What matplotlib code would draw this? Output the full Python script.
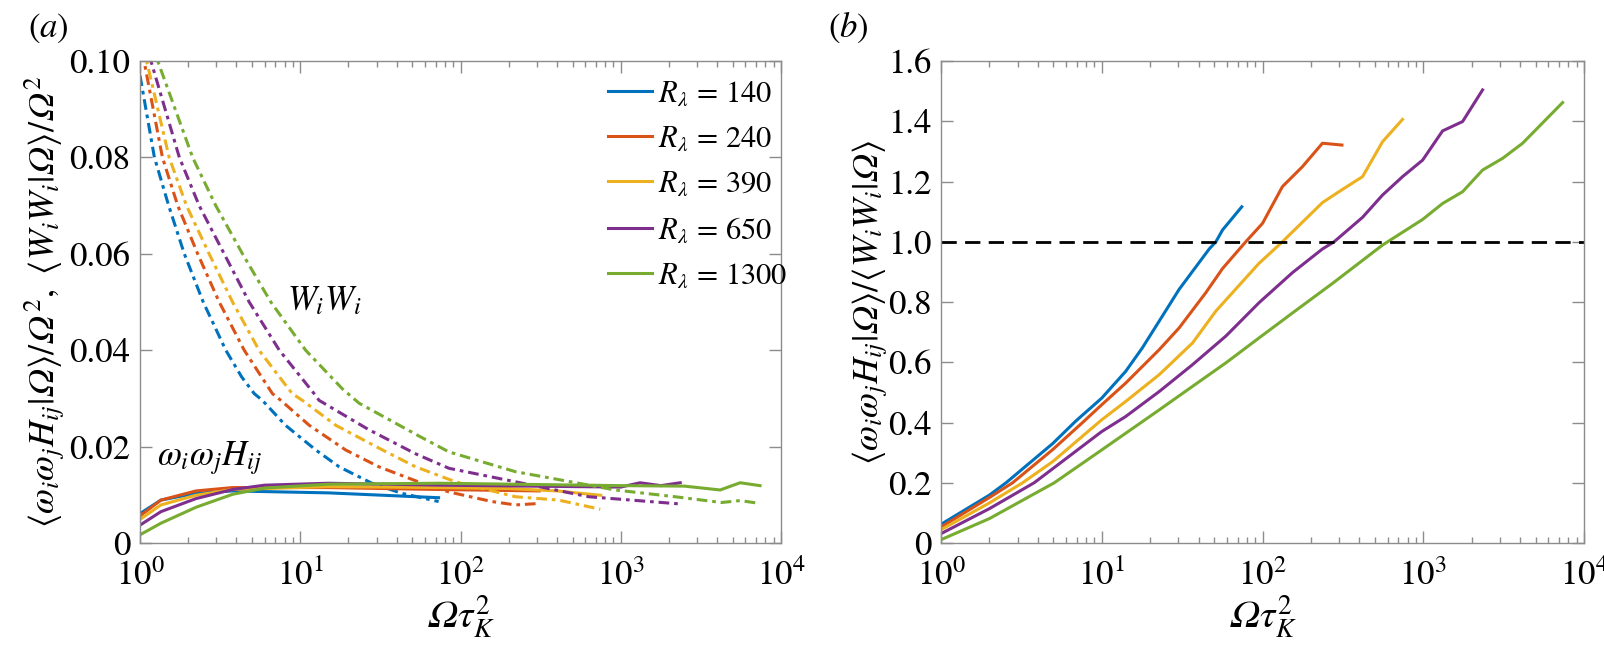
import numpy as np
import matplotlib
matplotlib.use('Agg')
import matplotlib.pyplot as plt

plt.rcParams['mathtext.fontset'] = 'stix'
plt.rcParams['font.family'] = ['STIXGeneral', 'Liberation Serif', 'DejaVu Serif']

# data
re_labels = ['140', '240', '390', '650', '1300']
colors = ['#0072BD', '#D95319', '#EDB120', '#7E2F8E', '#77AC30']

# panel (a): <w_i w_j H_ij | Omega> / Omega^2  (solid)
x_h140 = [1, 1.35, 2.23, 3.78, 15, 73]
y_h140 = [0.0061, 0.0089, 0.0103, 0.0108, 0.0104, 0.0094]
x_h240 = [1, 1.35, 2.23, 3.78, 15, 73, 310]
y_h240 = [0.0056, 0.0089, 0.0108, 0.0115, 0.0115, 0.0111, 0.0108]
x_h390 = [1, 1.35, 2.23, 3.78, 15, 73, 200, 400, 750]
y_h390 = [0.0049, 0.0079, 0.0099, 0.0111, 0.0117, 0.0115, 0.0113, 0.0108, 0.0099]
x_h650 = [1, 1.35, 2.23, 3.78, 6, 15, 73, 1000, 1320, 1780, 2350]
y_h650 = [0.0037, 0.0065, 0.0092, 0.0111, 0.0120, 0.0124, 0.0120, 0.0116, 0.0125, 0.0119, 0.0125]
x_h1300 = [1, 1.35, 2.23, 3.78, 6, 15, 73, 1000, 2500, 4170, 5560, 7400]
y_h1300 = [0.0017, 0.0041, 0.0074, 0.0101, 0.0114, 0.0122, 0.0124, 0.0119, 0.0118, 0.0110, 0.0125, 0.0119]

# panel (a): <W_i W_i | Omega> / Omega^2  (dash-dot)
x_w140 = [1, 1.23, 1.51, 1.89, 2.48, 3.43, 4.3, 5.16, 5.8, 8.1, 12.5, 17.5, 28, 43, 73]
y_w140 = [0.097, 0.08, 0.07, 0.06, 0.05, 0.04, 0.0345, 0.031, 0.0296, 0.0244, 0.0193,
          0.0158, 0.0124, 0.0103, 0.0086]
x_w240 = [1, 1.06, 1.38, 1.72, 2.29, 3.12, 4.47, 6.7, 7.56, 11.4, 19.2, 31, 57.6, 84.5,
          157, 220, 310]
y_w240 = [0.102, 0.10, 0.08, 0.07, 0.06, 0.05, 0.04, 0.031, 0.0296, 0.0244, 0.0193,
          0.0158, 0.0124, 0.0106, 0.0086, 0.0079, 0.0082]
x_w390 = [1, 1.1, 1.52, 1.95, 2.7, 3.78, 5.53, 8.9, 10.3, 16.7, 32.6, 52.5, 93, 220, 410, 745]
y_w390 = [0.103, 0.10, 0.08, 0.07, 0.06, 0.05, 0.04, 0.031, 0.0296, 0.0244, 0.0193,
          0.0158, 0.0127, 0.0096, 0.0089, 0.0070]
x_w650 = [1, 1.17, 1.76, 2.34, 3.35, 4.8, 7.4, 12.2, 13.1, 26.8, 52.5, 84.7, 220, 630, 2350]
y_w650 = [0.106, 0.10, 0.08, 0.07, 0.06, 0.05, 0.04, 0.031, 0.0296, 0.0235, 0.0185,
          0.0155, 0.0127, 0.0096, 0.0081]
x_w1300 = [1, 1.29, 2.13, 2.97, 4.36, 6.55, 10.8, 18.3, 23.3, 55, 84.7, 220, 925, 2180,
           4260, 5560, 7400]
y_w1300 = [0.115, 0.10, 0.08, 0.07, 0.06, 0.05, 0.04, 0.032, 0.0290, 0.0222, 0.0189,
           0.0148, 0.0110, 0.0096, 0.0084, 0.0088, 0.0082]

# panel (b): ratio
x_r140 = [1, 2.0, 2.54, 4.95, 6.9, 10, 14.1, 17.9, 22.8, 30.3, 46.6, 51.3, 56.4, 74.3]
y_r140 = [0.062, 0.159, 0.2, 0.33, 0.405, 0.481, 0.57, 0.648, 0.737, 0.842, 0.976, 1.0,
          1.039, 1.116]
x_r240 = [1, 2, 2.79, 4.95, 7.6, 10, 14.1, 22.8, 30.3, 44.4, 56.4, 78.7, 100, 133, 177, 236, 312]
y_r240 = [0.053, 0.151, 0.2, 0.31, 0.4, 0.459, 0.531, 0.642, 0.714, 0.831, 0.911, 1.0,
          1.061, 1.183, 1.249, 1.327, 1.321]
x_r390 = [1, 2, 3.22, 4.95, 10, 14.1, 22.8, 36.7, 51.3, 95, 133, 236, 315, 419, 558, 743]
y_r390 = [0.044, 0.133, 0.2, 0.27, 0.409, 0.47, 0.559, 0.664, 0.77, 0.928, 1.0, 1.13,
          1.174, 1.216, 1.332, 1.406]
x_r650 = [1, 2, 3.8, 10, 14.1, 22.8, 36.7, 59.2, 95.3, 154, 236, 279, 419, 558, 743,
          991, 1319, 1757, 2339]
y_r650 = [0.031, 0.114, 0.2, 0.37, 0.42, 0.503, 0.592, 0.687, 0.798, 0.898, 0.976,
          1.0, 1.081, 1.155, 1.216, 1.271, 1.368, 1.399, 1.504]
x_r1300 = [1, 2, 5.07, 10, 22.8, 36.7, 59.2, 95.3, 154, 273, 558, 991, 1319, 1757, 2339,
           3119, 4150, 7360]
y_r1300 = [0.011, 0.081, 0.2, 0.309, 0.442, 0.52, 0.598, 0.681, 0.764, 0.862, 0.989,
           1.074, 1.127, 1.166, 1.238, 1.277, 1.327, 1.462]

h_curves = [(x_h140, y_h140), (x_h240, y_h240), (x_h390, y_h390), (x_h650, y_h650), (x_h1300, y_h1300)]
w_curves = [(x_w140, y_w140), (x_w240, y_w240), (x_w390, y_w390), (x_w650, y_w650), (x_w1300, y_w1300)]
r_curves = [(x_r140, y_r140), (x_r240, y_r240), (x_r390, y_r390), (x_r650, y_r650), (x_r1300, y_r1300)]

a_yticks = [0, 0.02, 0.04, 0.06, 0.08, 0.10]
a_yticklabels = ['0', '0.02', '0.04', '0.06', '0.08', '0.10']
b_yticks = [0, 0.2, 0.4, 0.6, 0.8, 1.0, 1.2, 1.4, 1.6]
b_yticklabels = ['0', '0.2', '0.4', '0.6', '0.8', '1.0', '1.2', '1.4', '1.6']

OM = '\U0001D6FA'  # italic capital omega
lw = 2.2
dashdot = (0, (3.5, 1.6, 1.2, 1.6))


def style_axes(ax):
    ax.set_xscale('log')
    ax.set_xlim(1, 1e4)
    for s in ax.spines.values():
        s.set_color('0.55')
        s.set_linewidth(1.0)
    ax.tick_params(which='both', direction='in', top=True, right=True,
                   colors='0.55', labelcolor='black', labelsize=25, pad=7)
    ax.tick_params(axis='x', which='both', pad=12)
    ax.tick_params(which='major', length=8.6, width=1.0)
    ax.tick_params(which='minor', length=4.3, width=1.0)
    ax.set_xticks([1, 10, 100, 1000, 10000])
    ax.set_xlabel(r'$' + OM + r'\tau_K^2$', fontsize=28, labelpad=0)


fig = plt.figure(figsize=(16.04, 6.55), dpi=100)
ax1 = fig.add_axes([140 / 1604, 1 - 543 / 655, 641 / 1604, 482 / 655])
ax2 = fig.add_axes([941 / 1604, 1 - 543 / 655, 643 / 1604, 482 / 655])

# (a)
for (xh, yh), (xw, yw), c, r in zip(h_curves, w_curves, colors, re_labels):
    ax1.plot(xh, yh, color=c, lw=lw, label=r'$R_\lambda\,=\,' + r + '$')
    ax1.plot(xw, yw, color=c, lw=lw, linestyle=dashdot)
style_axes(ax1)
ax1.set_ylim(0, 0.1)
ax1.set_yticks(a_yticks)
ax1.set_yticklabels(a_yticklabels)
ax1.set_ylabel(r'$\langle \omega_i\omega_j H_{ij}|' + OM + r'\rangle/' + OM + r'^2,\ \langle W_iW_i|'
               + OM + r'\rangle/' + OM + r'^2$', fontsize=26)
ax1.yaxis.set_label_coords(-0.114, 0.5)
ax1.text(8.27, 0.0482, r'$W_iW_i$', fontsize=25, ha='left', va='baseline')
ax1.text(1.28, 0.0161, r'$\omega_i\omega_j H_{ij}$', fontsize=25, ha='left', va='baseline')
ax1.legend(loc='upper left', bbox_to_anchor=(608 / 1604, 1 - 80 / 655),
           bbox_transform=fig.transFigure, frameon=False, fontsize=22,
           handlelength=1.45, handletextpad=0.2, labelspacing=0.55,
           borderpad=0, borderaxespad=0)
fig.text(48 / 1604, 1 - 28 / 655, r'$(a)$', fontsize=25, ha='center', va='center')

# (b)
for (xr, yr), c in zip(r_curves, colors):
    ax2.plot(xr, yr, color=c, lw=lw)
ax2.axhline(1.0, color='black', lw=2.0, linestyle=(0, (5.5, 3)))
style_axes(ax2)
ax2.set_ylim(0, 1.6)
ax2.set_yticks(b_yticks)
ax2.set_yticklabels(b_yticklabels)
ax2.set_ylabel(r'$\langle \omega_i\omega_j H_{ij}|' + OM + r'\rangle/\langle W_iW_i|'
               + OM + r'\rangle$', fontsize=26)
ax2.yaxis.set_label_coords(-0.08, 0.5)
fig.text(848 / 1604, 1 - 28 / 655, r'$(b)$', fontsize=25, ha='center', va='center')

plt.savefig('out.png', dpi=100)
